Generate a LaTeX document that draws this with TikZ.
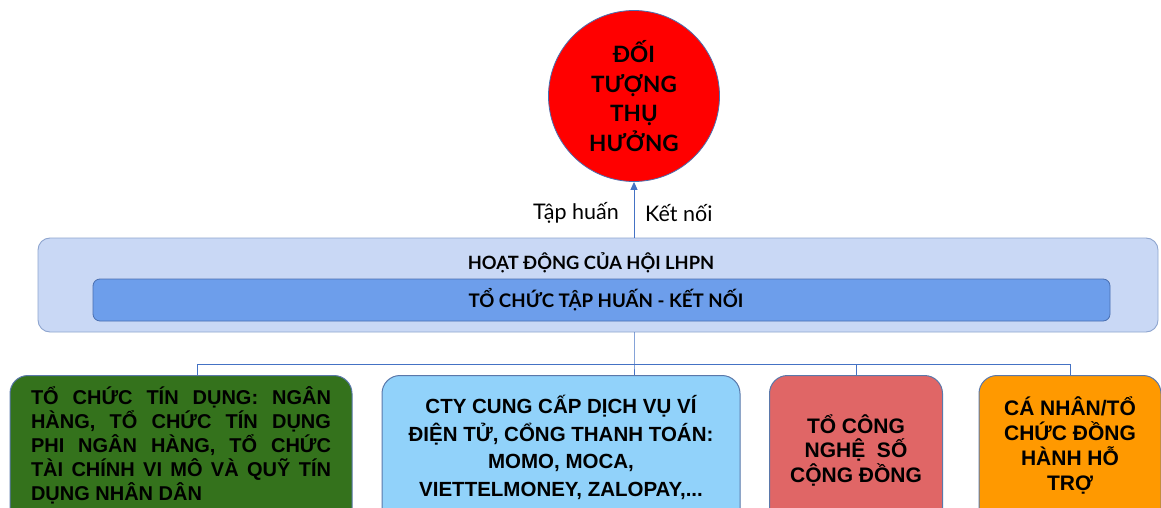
\documentclass[tikz,border=0pt]{standalone}
\usepackage{fontspec}
\setmainfont{Lato}
\newfontfamily\arialb{Liberation Sans}[BoldFont={* Bold}]
\usetikzlibrary{arrows.meta}
\definecolor{linkblue}{RGB}{68,114,196}
\definecolor{panelfill}{RGB}{201,216,245}
\definecolor{paneledge}{RGB}{142,165,207}
\definecolor{barfill}{RGB}{109,158,235}
\definecolor{baredge}{RGB}{74,111,176}
\definecolor{boxedge}{RGB}{90,120,170}
\definecolor{greenfill}{RGB}{52,114,28}
\definecolor{skyfill}{RGB}{145,210,250}
\definecolor{rosefill}{RGB}{224,102,102}
\definecolor{orangefill}{RGB}{255,153,0}
\tikzset{
  link/.style={draw=linkblue, line width=0.9pt},
  catbox/.style={draw=boxedge, line width=1pt, rounded corners=18pt, anchor=north},
  cattext/.style={font=\arialb\bfseries\fontsize{20}{24}\selectfont, anchor=north, inner sep=0pt},
}
\begin{document}
\begin{tikzpicture}[x=1pt,y=-1pt]
\useasboundingbox (0,0) rectangle (1161,508);
\clip (0,0) rectangle (1161,508);
\fill[white] (0,0) rectangle (1161,508);

% beneficiaries
\node[circle, draw=baredge, line width=0.8pt, fill=red, minimum size=171pt,
      align=center, font=\bfseries\fontsize{22.5}{29.5}\selectfont] (tgt) at (634,96)
  {ĐỐI\\TƯỢNG\\THỤ\\HƯỞNG};

% activity panel
\node[draw=paneledge, fill=panelfill, line width=0.9pt, rounded corners=12pt,
      minimum width=1120pt, minimum height=94pt, inner sep=0pt] (panel) at (598,285) {};
\node[font=\bfseries\fontsize{18.3}{22}\selectfont, inner sep=0pt] (head) at (591,263)
  {HOẠT ĐỘNG CỦA HỘI LHPN};
\node[draw=baredge, fill=barfill, line width=0.8pt, rounded corners=7pt,
      minimum width=1017pt, minimum height=42pt, inner sep=0pt] (bar) at (601.5,300) {};
\node[font=\bfseries\fontsize{18.7}{22}\selectfont, inner sep=0pt] (bartext) at (606,300)
  {TỔ CHỨC TẬP HUẤN - KẾT NỐI};

% arrow up to the beneficiaries
\draw[link, -{Triangle[length=8pt,width=7pt]}] (tgt.south |- panel.north) -- (tgt.south);
\node[anchor=east, font=\fontsize{21.5}{24}\selectfont, inner sep=0pt] (lblA) at (619,213) {Tập huấn};
\node[anchor=west, font=\fontsize{21.5}{24}\selectfont, inner sep=0pt] (lblB) at (645,213) {Kết nối};

% category boxes
\node[catbox, fill=greenfill, minimum width=342pt, minimum height=160pt] (b1) at (181,375) {};
\node[catbox, fill=skyfill, minimum width=358pt, minimum height=160pt] (b2) at (561,375) {};
\node[catbox, fill=rosefill, minimum width=173pt, minimum height=160pt] (b3) at (856,375) {};
\node[catbox, fill=orangefill, minimum width=182pt, minimum height=160pt] (b4) at (1070,375) {};

\node[cattext, text width=300pt, align=justify] (t1) at ([yshift=-11pt]b1.north)
  {TỔ CHỨC TÍN DỤNG: NGÂN\linebreak HÀNG, TỔ CHỨC TÍN DỤNG\linebreak PHI NGÂN HÀNG, TỔ CHỨC\linebreak TÀI CHÍNH VI MÔ VÀ QUỸ TÍN\linebreak DỤNG NHÂN DÂN};
\node[cattext, align=center, font=\arialb\bfseries\fontsize{20.5}{27.5}\selectfont] (t2) at ([yshift=-20pt]b2.north)
  {CTY CUNG CẤP DỊCH VỤ VÍ\\ĐIỆN TỬ, CỔNG THANH TOÁN:\\MOMO, MOCA,\\VIETTELMONEY, ZALOPAY,...};
\node[cattext, align=center, font=\arialb\bfseries\fontsize{21}{24.5}\selectfont] (t3) at ([yshift=-39pt]b3.north)
  {TỔ CÔNG\\NGHỆ\ \ SỐ\\CỘNG ĐỒNG};
\node[cattext, align=center, font=\arialb\bfseries\fontsize{21}{25}\selectfont] (t4) at ([yshift=-21pt]b4.north)
  {CÁ NHÂN/TỔ\\CHỨC ĐỒNG\\HÀNH HỖ\\TRỢ};

% tree connectors
\coordinate (hub) at (tgt.south |- 0,364);
\coordinate (hubL) at (197,364);
\coordinate (hubR) at (b4.north |- hub);
\draw[link] (tgt.south |- panel.south) -- (hub) -- (hub |- b2.north);
\draw[link] (hubL |- b1.north) -- (hubL) -- (hubR) -- (b4.north);
\draw[link] (b3.north |- hub) -- (b3.north);
\end{tikzpicture}
\end{document}
